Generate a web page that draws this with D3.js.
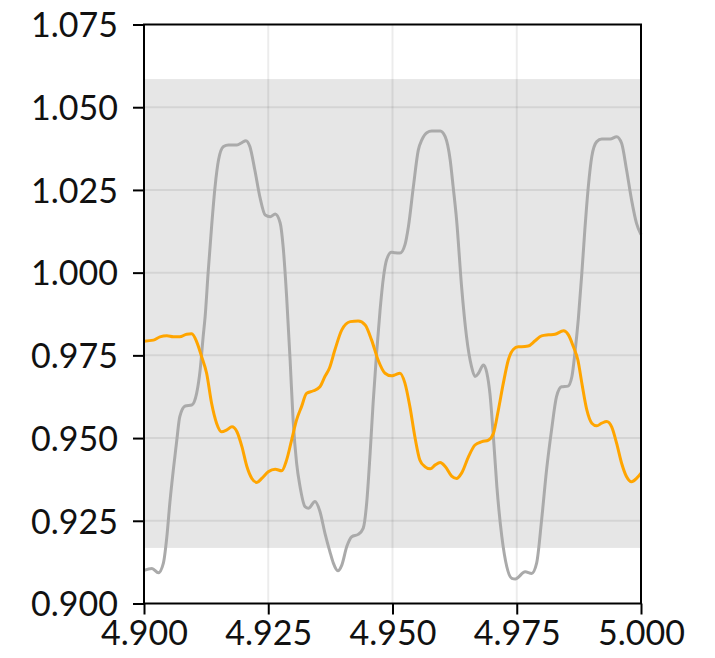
<!DOCTYPE html>
<html>
<head>
<meta charset="utf-8">
<script src="https://cdn.jsdelivr.net/npm/d3@7"></script>
<style>
  html, body { margin: 0; padding: 0; background: #fff; }
  svg { display: block; }
  .tick text { font-family: Lato, "Liberation Sans", sans-serif; font-size: 34px; fill: #111; }
</style>
</head>
<body>
<svg id="chart" width="715" height="658"></svg>
<script>
// Axis domains and tick labels
const xTicks = [4.900, 4.925, 4.950, 4.975, 5.000];
const yTicks = [0.900, 0.925, 0.950, 0.975, 1.000, 1.025, 1.050, 1.075];
const xDomain = [4.900, 5.000];
const yDomain = [0.900, 1.075];

// Shaded tolerance band (lower, upper)
const bandLimits = [0.9168, 1.0585];

// Gray series
const grayT = [4.9000, 4.9016, 4.9029, 4.9039, 4.9046, 4.9052, 4.9059, 4.9066, 4.9072, 4.9083,
  4.9096, 4.9106, 4.9113, 4.9119, 4.9123, 4.9129, 4.9136, 4.9143, 4.9150, 4.9160,
  4.9170, 4.9187, 4.9197, 4.9205, 4.9213, 4.9223, 4.9233, 4.9244, 4.9254, 4.9264,
  4.9274, 4.9280, 4.9287, 4.9294, 4.9300, 4.9307, 4.9314, 4.9324, 4.9331, 4.9344,
  4.9354, 4.9364, 4.9374, 4.9381, 4.9390, 4.9398, 4.9408, 4.9418, 4.9431, 4.9441,
  4.9448, 4.9455, 4.9461, 4.9468, 4.9475, 4.9482, 4.9488, 4.9498, 4.9505, 4.9515,
  4.9525, 4.9532, 4.9542, 4.9552, 4.9559, 4.9569, 4.9579, 4.9596, 4.9606, 4.9616,
  4.9622, 4.9629, 4.9639, 4.9649, 4.9659, 4.9666, 4.9673, 4.9683, 4.9690, 4.9696,
  4.9703, 4.9710, 4.9720, 4.9730, 4.9740, 4.9747, 4.9767, 4.9780, 4.9790, 4.9800,
  4.9810, 4.9820, 4.9830, 4.9840, 4.9853, 4.9861, 4.9867, 4.9874, 4.9881, 4.9887,
  4.9894, 4.9901, 4.9911, 4.9921, 4.9938, 4.9951, 4.9961, 4.9971, 4.9981, 4.9991,
  5.0000];
const grayV = [0.9100, 0.9106, 0.9093, 0.9122, 0.9202, 0.9304, 0.9404, 0.9494, 0.9565, 0.9597,
  0.9600, 0.9636, 0.9706, 0.9806, 0.9867, 0.9999, 1.0139, 1.0260, 1.0341, 1.0381,
  1.0386, 1.0386, 1.0393, 1.0399, 1.0381, 1.0310, 1.0230, 1.0174, 1.0169, 1.0177,
  1.0150, 1.0078, 0.9927, 0.9736, 0.9555, 0.9425, 0.9353, 0.9293, 0.9288, 0.9308,
  0.9278, 0.9213, 0.9157, 0.9122, 0.9099, 0.9116, 0.9172, 0.9202, 0.9209, 0.9227,
  0.9303, 0.9455, 0.9606, 0.9757, 0.9887, 0.9988, 1.0038, 1.0062, 1.0060, 1.0059,
  1.0084, 1.0139, 1.0260, 1.0371, 1.0401, 1.0423, 1.0428, 1.0428, 1.0411, 1.0341,
  1.0260, 1.0159, 0.9958, 0.9806, 0.9716, 0.9686, 0.9696, 0.9721, 0.9696, 0.9635,
  0.9504, 0.9353, 0.9202, 0.9111, 0.9076, 0.9074, 0.9096, 0.9091, 0.9122, 0.9252,
  0.9404, 0.9524, 0.9625, 0.9655, 0.9657, 0.9686, 0.9757, 0.9862, 0.9999, 1.0129,
  1.0260, 1.0351, 1.0396, 1.0404, 1.0404, 1.0411, 1.0391, 1.0310, 1.0220, 1.0149,
  1.0115];

// Orange series
const orangeT = [4.9000, 4.9019, 4.9032, 4.9046, 4.9059, 4.9072, 4.9086, 4.9096, 4.9106, 4.9116,
  4.9126, 4.9136, 4.9146, 4.9156, 4.9166, 4.9177, 4.9187, 4.9197, 4.9207, 4.9217,
  4.9227, 4.9237, 4.9250, 4.9264, 4.9277, 4.9287, 4.9297, 4.9307, 4.9317, 4.9327,
  4.9341, 4.9354, 4.9364, 4.9373, 4.9384, 4.9398, 4.9415, 4.9431, 4.9445, 4.9458,
  4.9471, 4.9485, 4.9498, 4.9505, 4.9515, 4.9525, 4.9535, 4.9545, 4.9555, 4.9565,
  4.9576, 4.9586, 4.9596, 4.9606, 4.9619, 4.9629, 4.9639, 4.9653, 4.9666, 4.9680,
  4.9693, 4.9703, 4.9713, 4.9723, 4.9733, 4.9743, 4.9753, 4.9760, 4.9773, 4.9787,
  4.9800, 4.9814, 4.9827, 4.9844, 4.9854, 4.9864, 4.9873, 4.9881, 4.9891, 4.9901,
  4.9911, 4.9921, 4.9931, 4.9941, 4.9951, 4.9961, 4.9971, 4.9981, 4.9991, 5.0000];
const orangeV = [0.9793, 0.9796, 0.9806, 0.9809, 0.9806, 0.9806, 0.9814, 0.9815, 0.9791, 0.9746,
  0.9696, 0.9605, 0.9545, 0.9519, 0.9524, 0.9534, 0.9519, 0.9474, 0.9414, 0.9378,
  0.9366, 0.9378, 0.9398, 0.9406, 0.9401, 0.9434, 0.9494, 0.9555, 0.9595, 0.9635,
  0.9643, 0.9655, 0.9686, 0.9711, 0.9766, 0.9827, 0.9852, 0.9854, 0.9842, 0.9796,
  0.9736, 0.9696, 0.9688, 0.9691, 0.9696, 0.9666, 0.9595, 0.9504, 0.9434, 0.9414,
  0.9407, 0.9419, 0.9426, 0.9414, 0.9385, 0.9378, 0.9394, 0.9444, 0.9479, 0.9489,
  0.9494, 0.9514, 0.9585, 0.9666, 0.9736, 0.9768, 0.9776, 0.9776, 0.9778, 0.9794,
  0.9809, 0.9812, 0.9814, 0.9824, 0.9812, 0.9776, 0.9736, 0.9666, 0.9585, 0.9545,
  0.9537, 0.9545, 0.9550, 0.9534, 0.9484, 0.9424, 0.9383, 0.9368, 0.9378, 0.9394];

const width = 715, height = 658;
const margin = { top: 24.5, right: 74, bottom: 54.5, left: 144 };
const innerW = width - margin.left - margin.right;
const innerH = height - margin.top - margin.bottom;

const svg = d3.select("#chart");
const g = svg.append("g").attr("transform", `translate(${margin.left},${margin.top})`);

const x = d3.scaleLinear().domain(xDomain).range([0, innerW]);
const y = d3.scaleLinear().domain(yDomain).range([innerH, 0]);

// tolerance band
g.append("rect")
  .attr("x", 0)
  .attr("width", innerW)
  .attr("y", y(bandLimits[1]))
  .attr("height", y(bandLimits[0]) - y(bandLimits[1]))
  .attr("fill", "#e6e6e6");

// grid
const grid = g.append("g").attr("stroke", "rgba(0,0,0,0.075)").attr("stroke-width", 2);
grid.selectAll("line.v").data(xTicks.slice(1, -1)).join("line")
  .attr("x1", d => x(d)).attr("x2", d => x(d))
  .attr("y1", 0).attr("y2", innerH);
grid.selectAll("line.h").data(yTicks.slice(1, -1)).join("line")
  .attr("y1", d => y(d)).attr("y2", d => y(d))
  .attr("x1", 0).attr("x2", innerW);

// series
const toPoints = (ts, vs) => ts.map((t, i) => [t, vs[i]]);
const line = d3.line().x(d => x(d[0])).y(d => y(d[1])).curve(d3.curveMonotoneX);

g.append("path")
  .datum(toPoints(grayT, grayV))
  .attr("fill", "none")
  .attr("stroke", "#aaaaaa")
  .attr("stroke-width", 3)
  .attr("stroke-linejoin", "round")
  .attr("d", line);

g.append("path")
  .datum(toPoints(orangeT, orangeV))
  .attr("fill", "none")
  .attr("stroke", "#ffa500")
  .attr("stroke-width", 3)
  .attr("stroke-linejoin", "round")
  .attr("d", line);

// frame
g.append("rect")
  .attr("x", 0).attr("y", 0)
  .attr("width", innerW).attr("height", innerH)
  .attr("fill", "none")
  .attr("stroke", "#000")
  .attr("stroke-width", 2);

// axes
const xAxis = d3.axisBottom(x).tickValues(xTicks).tickFormat(d3.format(".3f"))
  .tickSize(11).tickPadding(6);
const yAxis = d3.axisLeft(y).tickValues(yTicks).tickFormat(d3.format(".3f"))
  .tickSize(11).tickPadding(15);

const gx = g.append("g").attr("transform", `translate(0,${innerH})`).call(xAxis);
const gy = g.append("g").call(yAxis);

[gx, gy].forEach(a => {
  a.select(".domain").remove();
  a.selectAll(".tick line").attr("stroke", "#000").attr("stroke-width", 2);
  a.selectAll(".tick text").attr("font-family", null).attr("font-size", null);
});
gy.selectAll(".tick text").attr("dy", "0.36em");
</script>
</body>
</html>
